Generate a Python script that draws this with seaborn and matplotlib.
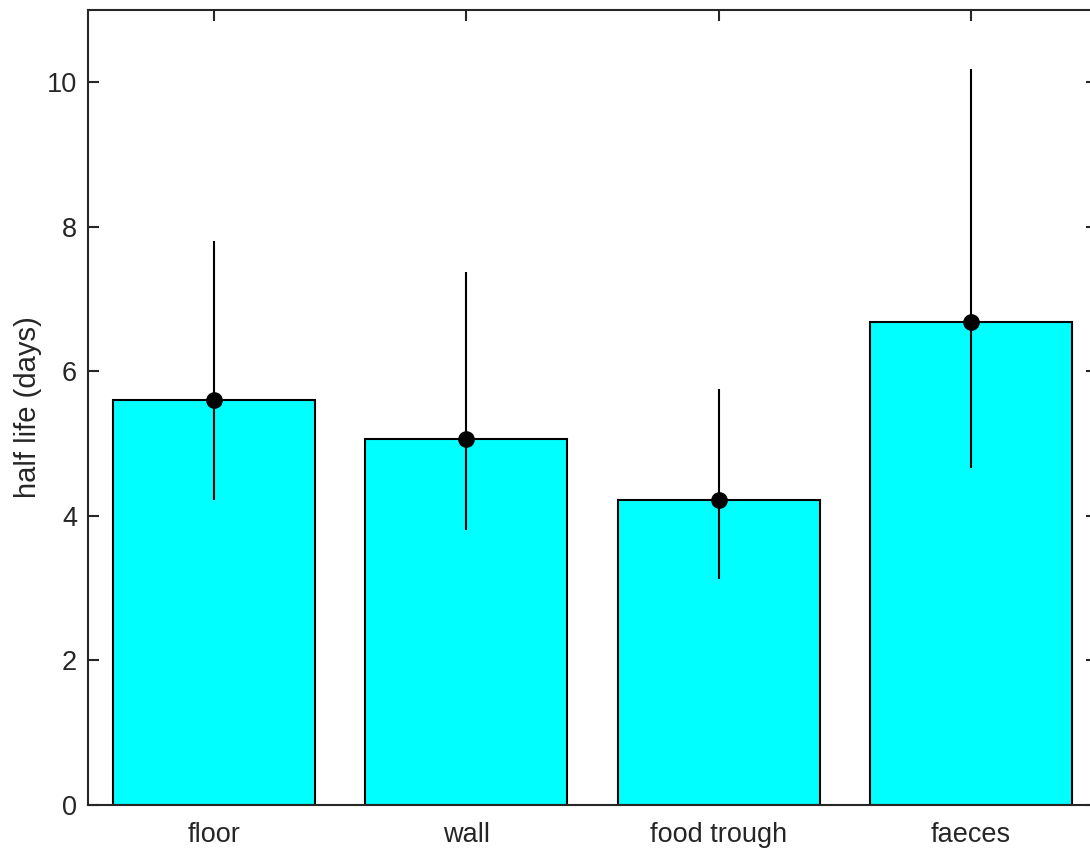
import matplotlib
matplotlib.use("Agg")
import matplotlib.pyplot as plt
import seaborn as sns
import numpy as np
import pandas as pd

categories = ["floor", "wall", "food trough", "faeces"]
half_life = [5.60, 5.07, 4.22, 6.68]
err_low = [4.22, 3.80, 3.13, 4.66]
err_high = [7.80, 7.38, 5.75, 10.18]
yticks = [0, 2, 4, 6, 8, 10]

sns.set_theme(style="white")
plt.rcParams["font.family"] = ["Liberation Sans", "DejaVu Sans"]

df = pd.DataFrame({"surface": categories, "half_life": half_life})

fig = plt.figure(figsize=(10.9, 8.52), dpi=100)
ax = fig.add_axes([88/1090, 1 - 805/852, (1097 - 88)/1090, (805 - 10)/852])

sns.barplot(data=df, x="surface", y="half_life", color="#00FFFF", saturation=1,
            edgecolor="black", linewidth=1.5, width=0.8, errorbar=None, ax=ax)

x = np.arange(len(categories))
y = np.array(half_life)
yerr = np.vstack([y - np.array(err_low), np.array(err_high) - y])
ax.errorbar(x, y, yerr=yerr, fmt="o", color="black", ecolor="black",
            elinewidth=1.5, markersize=11, capsize=0, zorder=5)

ax.set_xlim(-0.5, len(categories) - 0.5)
ax.set_ylim(0, 11)
ax.set_yticks(yticks)
ax.set_xlabel("")
ax.set_ylabel("half life (days)", fontsize=21, color="#262626", labelpad=3)
for s in ax.spines.values():
    s.set_visible(True)
    s.set_color("#262626")
    s.set_linewidth(1.5)
ax.tick_params(axis="both", which="both", direction="in", length=8, width=1.5,
               colors="#262626", labelsize=19.5, top=True, right=True,
               bottom=True, left=True)
ax.tick_params(axis="x", pad=12)
ax.tick_params(axis="y", pad=8)

fig.savefig("out.png", dpi=100)
